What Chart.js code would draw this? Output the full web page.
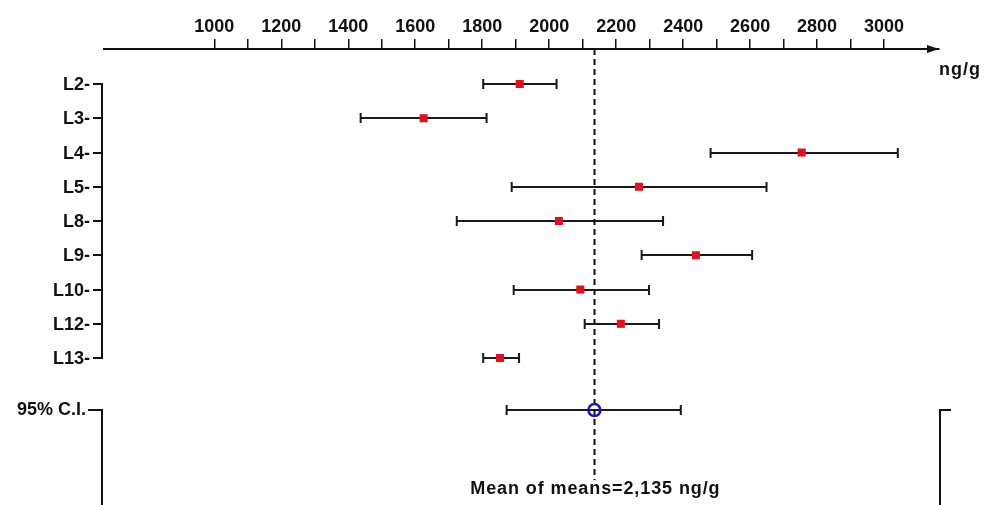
<!DOCTYPE html>
<html>
<head>
<meta charset="utf-8">
<script src="https://cdn.jsdelivr.net/npm/chart.js@4.4.1/dist/chart.umd.min.js"></script>
<style>
  html, body { margin: 0; padding: 0; background: #fff; }
  #wrap { width: 985px; height: 505px; }
</style>
</head>
<body>
<div id="wrap"><canvas id="c" width="985" height="505"></canvas></div>
<script>
// ---- data ----
const labs = ['L2', 'L3', 'L4', 'L5', 'L8', 'L9', 'L10', 'L12', 'L13'];
const means = [1912, 1625, 2754, 2268, 2029, 2438, 2093, 2214, 1853];
const lows  = [1803, 1437, 2482, 1888, 1724, 2276, 1894, 2106, 1803];
const highs = [2022, 1813, 3041, 2649, 2340, 2606, 2298, 2328, 1910];
const ciLabel = '95% C.I.';
const ciMean = 2135;
const ciLow = 1873;
const ciHigh = 2393;
const meanText = 'Mean of means=2,135 ng/g';
const unitLabel = 'ng/g';
const majorTicks = [1000, 1200, 1400, 1600, 1800, 2000, 2200, 2400, 2600, 2800, 3000];
const minorTicks = [1100, 1300, 1500, 1700, 1900, 2100, 2300, 2500, 2700, 2900];

const CI_ROW = 9.52;
const FONT = 'bold 18px "Liberation Sans", Arial, sans-serif';

const drawPlugin = {
  id: 'forest',
  beforeDatasetsDraw(chart) {
    const ctx = chart.ctx, xs = chart.scales.x, ys = chart.scales.y;
    const area = chart.chartArea;
    ctx.save();
    // dashed mean line
    const mx = Math.round(xs.getPixelForValue(ciMean)) + 0.5;
    ctx.strokeStyle = '#111';
    ctx.lineWidth = 2;
    ctx.setLineDash([6, 4]);
    ctx.beginPath();
    ctx.moveTo(mx, area.top);
    ctx.lineTo(mx, 480);
    ctx.stroke();
    ctx.setLineDash([]);
    // error bars
    ctx.strokeStyle = '#1a1a1a';
    ctx.lineWidth = 2;
    const bar = (lo, hi, row) => {
      const y = Math.round(ys.getPixelForValue(row));
      const x1 = xs.getPixelForValue(lo), x2 = xs.getPixelForValue(hi);
      ctx.beginPath();
      ctx.moveTo(x1, y); ctx.lineTo(x2, y);
      ctx.moveTo(x1, y - 5); ctx.lineTo(x1, y + 5);
      ctx.moveTo(x2, y - 5); ctx.lineTo(x2, y + 5);
      ctx.stroke();
    };
    labs.forEach((l, i) => bar(lows[i], highs[i], i));
    bar(ciLow, ciHigh, CI_ROW);
    ctx.restore();
  },
  afterDraw(chart) {
    const ctx = chart.ctx, xs = chart.scales.x, ys = chart.scales.y;
    const area = chart.chartArea;
    ctx.save();
    ctx.fillStyle = '#111';
    ctx.strokeStyle = '#111';
    ctx.lineWidth = 2;
    ctx.font = FONT;
    ctx.textBaseline = 'middle';
    ctx.textAlign = 'right';
    const bx = area.left - 2;
    // row labels + bracket
    labs.forEach((l, i) => {
      const y = Math.round(ys.getPixelForValue(i));
      ctx.fillText(l + '-', 90, y + 1);
      ctx.beginPath();
      ctx.moveTo(93, y); ctx.lineTo(bx, y);
      ctx.stroke();
    });
    const yTop = Math.round(ys.getPixelForValue(0));
    const yBot = Math.round(ys.getPixelForValue(labs.length - 1));
    ctx.beginPath();
    ctx.moveTo(bx, yTop - 1); ctx.lineTo(bx, yBot + 1);
    ctx.stroke();
    // CI label + brackets
    const yc = Math.round(ys.getPixelForValue(CI_ROW));
    ctx.fillText(ciLabel, 86, yc);
    ctx.beginPath();
    ctx.moveTo(88, yc); ctx.lineTo(bx, yc); ctx.lineTo(bx, area.bottom);
    ctx.moveTo(area.right + 1, area.bottom); ctx.lineTo(area.right + 1, yc); ctx.lineTo(area.right + 12, yc);
    ctx.stroke();
    // unit label
    ctx.textAlign = 'left';
    ctx.save();
    ctx.letterSpacing = '1px';
    ctx.fillText(unitLabel, 939, 70);
    ctx.restore();
    // mean text
    ctx.textAlign = 'center';
    ctx.save();
    ctx.letterSpacing = '0.9px';
    ctx.fillText(meanText, xs.getPixelForValue(ciMean) + 1, 489);
    ctx.restore();
    // arrowhead on axis
    const ay = area.top;
    ctx.beginPath();
    ctx.moveTo(area.right - 12, ay - 4);
    ctx.lineTo(area.right, ay);
    ctx.lineTo(area.right - 12, ay + 4);
    ctx.closePath();
    ctx.fill();
    ctx.restore();
  }
};

const allTicks = majorTicks.concat(minorTicks).sort((a, b) => a - b);

new Chart(document.getElementById('c'), {
  type: 'scatter',
  data: {
    datasets: [
      {
        data: labs.map((l, i) => ({ x: means[i], y: i })),
        pointStyle: 'rect',
        pointRadius: 5.7,
        pointHoverRadius: 5.7,
        backgroundColor: '#e0101e',
        borderColor: '#e0101e',
        pointBorderWidth: 0
      },
      {
        data: [{ x: ciMean, y: CI_ROW }],
        pointStyle: 'circle',
        pointRadius: 6,
        pointHoverRadius: 6,
        backgroundColor: 'rgba(0,0,0,0)',
        borderColor: '#1414c8',
        pointBorderWidth: 2.5
      }
    ]
  },
  options: {
    responsive: false,
    animation: false,
    events: [],
    layout: { padding: { left: 104, right: 46, top: 0, bottom: 0 }, autoPadding: false },
    plugins: { legend: { display: false }, tooltip: { enabled: false }, title: { display: false } },
    scales: {
      x: {
        type: 'linear',
        position: 'top',
        min: 670.6,
        max: 3164,
        afterBuildTicks: (s) => { s.ticks = allTicks.map(v => ({ value: v })); },
        afterFit: (s) => { s.height = 49; },
        ticks: {
          autoSkip: false,
          maxRotation: 0,
          padding: 1,
          color: '#111',
          font: { family: '"Liberation Sans", Arial, sans-serif', size: 18, weight: 'bold' },
          callback: (v) => majorTicks.includes(v) ? String(v) : ''
        },
        grid: { drawOnChartArea: false, drawTicks: true, tickLength: 10, color: '#111', lineWidth: 1.5 },
        border: { display: true, color: '#111', width: 2 }
      },
      y: {
        type: 'linear',
        display: false,
        reverse: true,
        min: -1.022,
        max: 12.29
      }
    }
  },
  plugins: [drawPlugin]
});
</script>
</body>
</html>
